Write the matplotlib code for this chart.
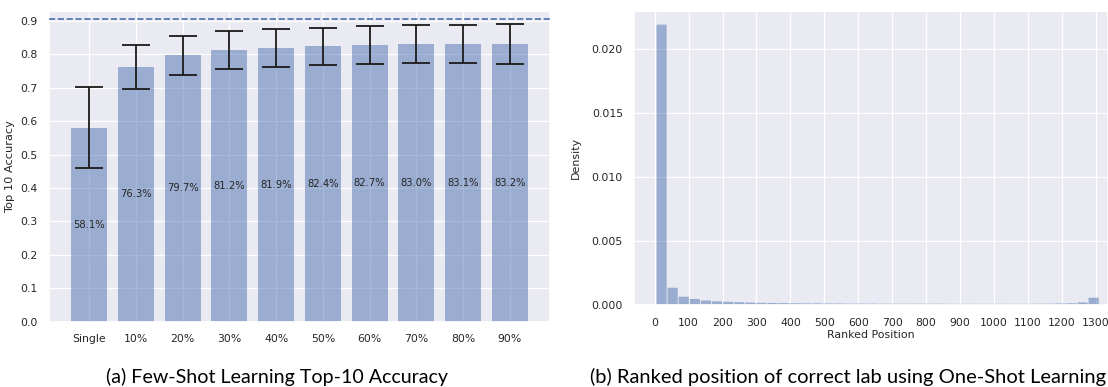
import numpy as np
import matplotlib
matplotlib.use("Agg")
import matplotlib.pyplot as plt
import seaborn as sns

# Few-shot accuracy per support-set size
categories = ["Single", "10%", "20%", "30%", "40%", "50%", "60%", "70%", "80%", "90%"]
accuracy = [0.581, 0.763, 0.797, 0.812, 0.819, 0.824, 0.827, 0.830, 0.831, 0.832]
accuracy_err = [0.122, 0.066, 0.059, 0.057, 0.056, 0.056, 0.057, 0.057, 0.058, 0.060]
upper_bound = 0.905

# One-shot ranked-position histogram (density per bin)
rank_min, rank_max = 4, 1310
rank_density = [
    0.02193, 0.00135, 0.00065, 0.00047, 0.00035, 0.00029, 0.00025, 0.00022,
    0.00019, 0.00017, 0.00016, 0.00015, 0.00014, 0.00013, 0.00013, 0.00012,
    0.00012, 0.00011, 0.00011, 0.00011, 0.00010, 0.00010, 0.00010, 0.00010,
    0.00010, 0.00010, 0.00009, 0.00009, 0.00009, 0.00009, 0.00009, 0.00009,
    0.00009, 0.00009, 0.00010, 0.00011, 0.00012, 0.00014, 0.00020, 0.00057,
]
rank_ticks = list(range(0, 1301, 100))

sns.set_theme(style="darkgrid")
plt.rcParams["font.family"] = ["DejaVu Sans"]

blue = "#4c72b0"
W, H = 1108, 387
fig = plt.figure(figsize=(W / 100, H / 100), dpi=100)

# ---- (a) bar chart with error bars ----
axa = fig.add_axes([49 / W, 1 - 321.5 / H, 501 / W, 310.8 / H])
x = np.arange(len(categories))
axa.bar(x, accuracy, width=0.77, color=blue, alpha=0.5, linewidth=0, zorder=2)
axa.errorbar(x, accuracy, yerr=accuracy_err, fmt="none", ecolor="#1a1a1a",
             elinewidth=1.3, capsize=10, capthick=1.3, zorder=3)
for xi, v in zip(x, accuracy):
    axa.text(xi, v / 2, f"{v * 100:.1f}%", ha="center", va="center",
             fontsize=7.2, color="#262626", zorder=4)
axa.axhline(upper_bound, ls="--", color=blue, lw=1.2, zorder=3)
axa.set_xticks(x)
axa.set_xticklabels(categories)
axa.set_yticks(np.arange(0, 0.91, 0.1))
axa.set_yticklabels([f"{t:.1f}" for t in np.arange(0, 0.91, 0.1)])
axa.set_xlim(-0.86, 9.86)
axa.set_ylim(0, 0.931)
axa.set_ylabel("Top 10 Accuracy", fontsize=8.2)
axa.tick_params(axis="both", labelsize=7.8, length=0)
axa.tick_params(axis="x", pad=9)
axa.tick_params(axis="y", pad=8)
axa.grid(True, color="white", lw=0.9)
axa.set_axisbelow(True)

# ---- (b) histogram of ranked positions ----
axb = fig.add_axes([634 / W, 1 - 305 / H, (W - 634) / W, (305 - 10.7) / H])
edges = np.linspace(rank_min, rank_max, len(rank_density) + 1)
centers = (edges[:-1] + edges[1:]) / 2
axb.hist(centers, bins=edges, weights=rank_density, color=blue, alpha=0.5,
         rwidth=0.92, linewidth=0, zorder=2, snap=False)
axb.set_xticks(rank_ticks)
axb.set_xlim(-61, 1336)
axb.set_ylim(0, 0.02302)
axb.set_yticks([0, 0.005, 0.010, 0.015, 0.020])
axb.set_yticklabels(["0.000", "0.005", "0.010", "0.015", "0.020"])
axb.set_xlabel("Ranked Position", fontsize=7.9, labelpad=2)
axb.set_ylabel("Density", fontsize=7.9, labelpad=8)
axb.tick_params(axis="both", labelsize=7.8, length=0)
axb.tick_params(axis="x", pad=9)
axb.tick_params(axis="y", pad=8)
axb.grid(True, color="white", lw=0.9)
axb.set_axisbelow(True)

# ---- sub-figure captions ----
fig.text(277 / W, 1 - 383 / H, "(a) Few-Shot Learning Top-10 Accuracy",
         ha="center", va="baseline", fontsize=14.1, family="Lato", color="black")
fig.text(848 / W, 1 - 383 / H, "(b) Ranked position of correct lab using One-Shot Learning",
         ha="center", va="baseline", fontsize=14.5, family="Lato", color="black")

fig.savefig("out.png", dpi=100)
